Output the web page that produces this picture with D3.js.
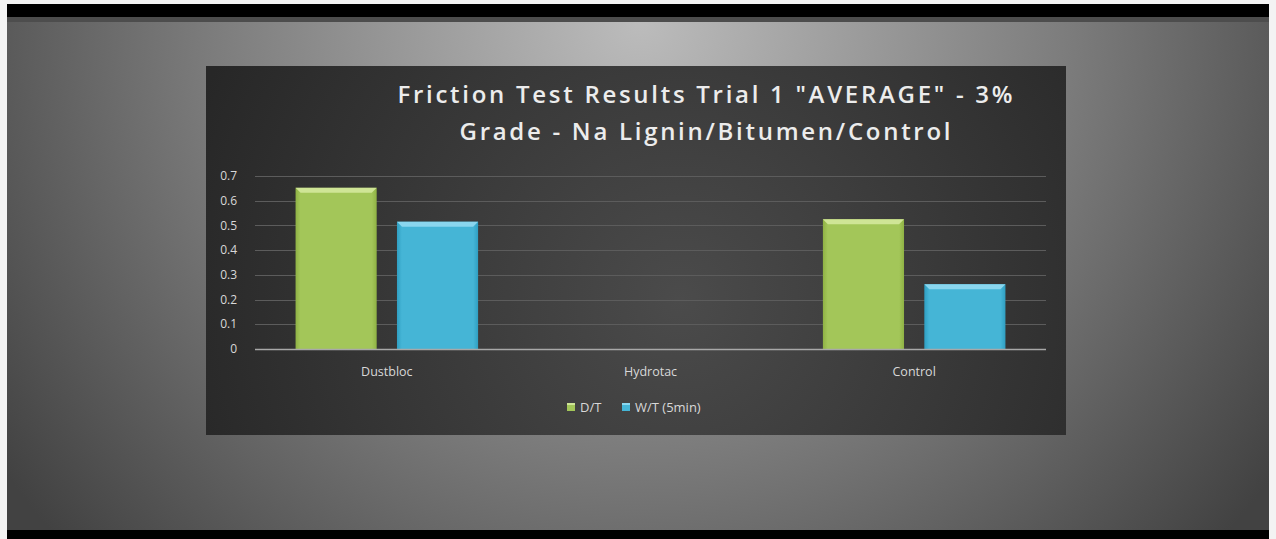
<!DOCTYPE html>
<html>
<head>
<meta charset="utf-8">
<script src="https://cdn.jsdelivr.net/npm/d3@7"></script>
<style>
  html, body { margin: 0; padding: 0; background: #f3f3f3; }
  svg { display: block; }
</style>
</head>
<body>
<div id="chart"></div>
<script>
const categories = ["Dustbloc", "Hydrotac", "Control"];
const seriesNames = ["D/T", "W/T (5min)"];
const dtValues = [0.652, 0, 0.525];
const wtValues = [0.515, 0, 0.262];
const yTicks = [0, 0.1, 0.2, 0.3, 0.4, 0.5, 0.6, 0.7];
const titleLines = ["Friction Test Results Trial 1 \"AVERAGE\" - 3%", "Grade - Na Lignin/Bitumen/Control"];

const W = 1276, H = 539;
const colors = {
  "D/T": { base: "#a3c659", top: "#cfe596", dark: "#8fb244" },
  "W/T (5min)": { base: "#45b5d6", top: "#8ad6ee", dark: "#2f9fc2" },
};

const svg = d3.select("#chart").append("svg").attr("width", W).attr("height", H);
const defs = svg.append("defs");

// outer slide background
const bgGrad = defs.append("radialGradient").attr("id", "bg")
  .attr("gradientUnits", "userSpaceOnUse")
  .attr("cx", 640).attr("cy", 20).attr("r", 780);
bgGrad.append("stop").attr("offset", "0%").attr("stop-color", "#bcbcbc");
bgGrad.append("stop").attr("offset", "55%").attr("stop-color", "#7c7c7c");
bgGrad.append("stop").attr("offset", "100%").attr("stop-color", "#424242");

const panelGrad = defs.append("radialGradient").attr("id", "panel")
  .attr("gradientUnits", "userSpaceOnUse")
  .attr("cx", 680).attr("cy", 300).attr("r", 520);
panelGrad.append("stop").attr("offset", "0%").attr("stop-color", "#4b4b4b");
panelGrad.append("stop").attr("offset", "100%").attr("stop-color", "#272727");

svg.append("rect").attr("x", 7).attr("y", 4).attr("width", 1262).attr("height", 535).attr("fill", "#000");
svg.append("rect").attr("x", 7).attr("y", 17).attr("width", 1262).attr("height", 6).attr("fill", "#4d4d4d");
svg.append("rect").attr("x", 7).attr("y", 22).attr("width", 1262).attr("height", 508).attr("fill", "url(#bg)");

// chart panel
const panel = { x: 206, y: 66, w: 860, h: 369 };
svg.append("rect").attr("x", panel.x).attr("y", panel.y)
  .attr("width", panel.w).attr("height", panel.h).attr("fill", "url(#panel)");

const plot = { left: 255, right: 1046, top: 176, bottom: 349 };

const x = d3.scaleBand().domain(categories).range([plot.left, plot.right]);
const x1 = d3.scaleBand().domain(seriesNames).range([0, x.bandwidth()])
  .paddingInner(0.2).paddingOuter(0.4);
const y = d3.scaleLinear().domain([0, 0.7]).range([plot.bottom, plot.top]);

// title
svg.append("g").selectAll("text")
  .data(titleLines)
  .join("text")
  .attr("x", 705)
  .attr("y", (d, i) => 103 + i * 37)
  .attr("text-anchor", "middle")
  .attr("textLength", (d, i) => [615, 491][i])
  .attr("lengthAdjust", "spacing")
  .attr("font-family", "'Open Sans', sans-serif")
  .attr("font-weight", 600)
  .attr("font-size", 24)
  .attr("fill", "#ececec")
  .text((d) => d);

// gridlines
svg.append("g").selectAll("line")
  .data(yTicks.filter((d) => d > 0))
  .join("line")
  .attr("x1", plot.left).attr("x2", plot.right)
  .attr("y1", (d) => Math.round(y(d)) + 0.5).attr("y2", (d) => Math.round(y(d)) + 0.5)
  .attr("stroke", "#5c5c5c").attr("stroke-width", 1);

// y tick labels
svg.append("g").selectAll("text")
  .data(yTicks)
  .join("text")
  .attr("x", 237)
  .attr("y", (d) => y(d))
  .attr("dy", "0.35em")
  .attr("text-anchor", "end")
  .attr("font-family", "'Open Sans', sans-serif")
  .attr("font-size", 12)
  .attr("fill", "#d8d8d8")
  .text((d) => d3.format("")(d));

// bars
const rows = categories.map((c, i) => ({ cat: c, values: [dtValues[i], wtValues[i]] }));
const bars = svg.append("g").selectAll("g")
  .data(rows)
  .join("g")
  .attr("transform", (d) => `translate(${x(d.cat)},0)`)
  .selectAll("g")
  .data((d) => d.values.map((v, j) => ({ key: seriesNames[j], value: v })).filter((d) => d.value > 0))
  .join("g");

seriesNames.forEach((s) => {
  const c = colors[s];
  const g = defs.append("linearGradient").attr("id", "grad-" + s.replace(/\W/g, ""))
    .attr("x1", 0).attr("x2", 1).attr("y1", 0).attr("y2", 0);
  g.append("stop").attr("offset", "0%").attr("stop-color", c.dark);
  g.append("stop").attr("offset", "6%").attr("stop-color", c.base);
  g.append("stop").attr("offset", "94%").attr("stop-color", c.base);
  g.append("stop").attr("offset", "100%").attr("stop-color", c.dark);
});

bars.append("rect")
  .attr("x", (d) => x1(d.key))
  .attr("y", (d) => y(d.value))
  .attr("width", x1.bandwidth())
  .attr("height", (d) => y(0) - y(d.value))
  .attr("fill", (d) => `url(#grad-${d.key.replace(/\W/g, "")})`);

// top bevel
bars.append("path")
  .attr("d", (d) => {
    const x0 = x1(d.key), w = x1.bandwidth(), t = y(d.value), b = 5;
    return `M${x0},${t}L${x0 + w},${t}L${x0 + w - b},${t + b}L${x0 + b},${t + b}Z`;
  })
  .attr("fill", (d) => colors[d.key].top);

// baseline
svg.append("line")
  .attr("x1", plot.left).attr("x2", plot.right)
  .attr("y1", y(0) + 0.5).attr("y2", y(0) + 0.5)
  .attr("stroke", "#a8a8a8").attr("stroke-width", 1.5);

// category labels
svg.append("g").selectAll("text")
  .data(categories)
  .join("text")
  .attr("x", (d) => x(d) + x.bandwidth() / 2)
  .attr("y", 376)
  .attr("text-anchor", "middle")
  .attr("font-family", "'Open Sans', sans-serif")
  .attr("font-size", 12.5)
  .attr("fill", "#d8d8d8")
  .text((d) => d);

// legend
const legendItems = [
  { key: seriesNames[0], x: 567 },
  { key: seriesNames[1], x: 622 },
];
const lg = svg.append("g").selectAll("g")
  .data(legendItems)
  .join("g")
  .attr("transform", (d) => `translate(${d.x},403)`);
lg.append("rect").attr("width", 8).attr("height", 8)
  .attr("fill", (d) => colors[d.key].base);
lg.append("rect").attr("width", 8).attr("height", 2)
  .attr("fill", (d) => colors[d.key].top);
lg.append("text")
  .attr("x", 13).attr("y", 4).attr("dy", "0.35em")
  .attr("font-family", "'Open Sans', sans-serif")
  .attr("font-size", 13)
  .attr("fill", "#d8d8d8")
  .text((d) => d.key);
</script>
</body>
</html>
